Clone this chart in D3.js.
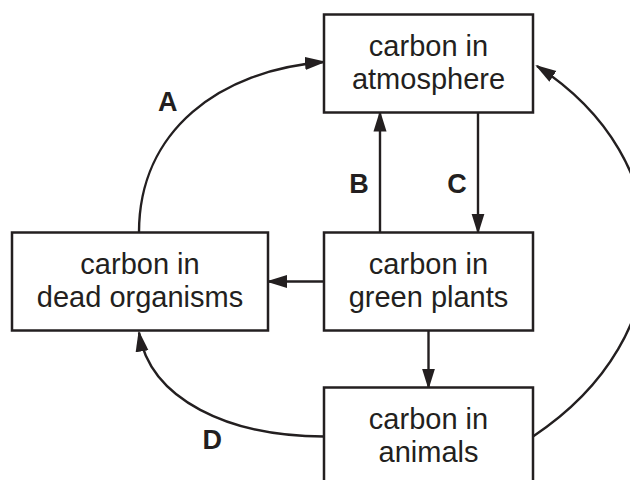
<!DOCTYPE html>
<html>
<head>
<meta charset="utf-8">
<script src="https://cdn.jsdelivr.net/npm/d3@7"></script>
<style>
  body { margin: 0; background: #fff; }
  svg { display: block; }
</style>
</head>
<body>
<div id="chart"></div>
<script>
// Carbon cycle - boxes and flow arrows
const nodeIds = ["atmosphere", "plants", "dead", "animals"];
const nodeLines = [
    ["carbon in", "atmosphere"],
    ["carbon in", "green plants"],
    ["carbon in", "dead organisms"],
    ["carbon in", "animals"]
];
const nodeCol = [1, 1, 0, 1];
const nodeRow = [0, 1, 1, 2];

const linkSource = ["plants", "atmosphere", "plants", "plants", "dead", "animals", "animals"];
const linkTarget = ["atmosphere", "plants", "dead", "animals", "atmosphere", "dead", "atmosphere"];
const linkLabel = ["B", "C", "", "", "A", "D", ""];

const width = 630, height = 480;
const ink = "#231f20";
const font = "'Liberation Sans', Arial, Helvetica, sans-serif";

const svg = d3.select("#chart")
    .append("svg")
    .attr("width", width)
    .attr("height", height)
    .style("overflow", "hidden");

// Layout scales: column / row -> box centre and size
const colX = d3.scaleOrdinal().domain([0, 1]).range([140, 428.5]);
const colW = d3.scaleOrdinal().domain([0, 1]).range([256, 209]);
const rowY = d3.scaleOrdinal().domain([0, 1, 2]).range([63.5, 281.5, 436.5]);
const boxH = 98;

const boxes = nodeIds.map((id, i) => {
    const cx = colX(nodeCol[i]), cy = rowY(nodeRow[i]), w = colW(nodeCol[i]);
    return { id, lines: nodeLines[i], col: nodeCol[i], row: nodeRow[i], cx, cy, w,
        x0: cx - w / 2, x1: cx + w / 2, y0: cy - boxH / 2, y1: cy + boxH / 2 };
});
const byId = new Map(boxes.map(b => [b.id, b]));

const links = linkSource.map((s, i) => ({
    source: byId.get(s), target: byId.get(linkTarget[i]), label: linkLabel[i]
}));

// Arrowhead
svg.append("defs").append("marker")
    .attr("id", "arrow")
    .attr("markerUnits", "userSpaceOnUse")
    .attr("viewBox", "0 -7 22 14")
    .attr("markerWidth", 22)
    .attr("markerHeight", 14)
    .attr("refX", 19)
    .attr("refY", 0)
    .attr("orient", "auto")
    .append("path")
    .attr("d", "M0,-6.5L21,0L0,6.5Z")
    .attr("fill", ink);

function bez(p0, p1, p2, p3, t) {
    const u = 1 - t;
    return [
        u*u*u*p0[0] + 3*u*u*t*p1[0] + 3*u*t*t*p2[0] + t*t*t*p3[0],
        u*u*u*p0[1] + 3*u*u*t*p1[1] + 3*u*t*t*p2[1] + t*t*t*p3[1]
    ];
}

function linkGeom(l) {
    const s = l.source, t = l.target;
    const hasReverse = links.some(o => o.source === t && o.target === s);
    const p = d3.path();
    let labelPos = null;
    if (s.col === t.col && Math.abs(s.row - t.row) === 1) {
        // straight vertical, split left/right when there is a return arrow
        const up = t.row < s.row;
        const x = s.cx + (hasReverse ? (up ? -48.5 : 49.5) : 0);
        const ya = up ? s.y0 : s.y1, yb = up ? t.y1 : t.y0;
        p.moveTo(x, ya); p.lineTo(x, yb);
        labelPos = [x - 21, (ya + yb) / 2 + 11];
    } else if (s.row === t.row) {
        const left = t.col < s.col;
        p.moveTo(left ? s.x0 : s.x1, s.cy);
        p.lineTo(left ? t.x1 : t.x0, t.cy);
    } else {
        let p0, p1, p2, p3, off = [0, 0];
        if (s.col === t.col) {
            // long loop round the right side
            p0 = [s.x1, s.cy];
            p3 = [t.x1 + 4, t.cy + 2.5];
            p1 = [p0[0] + 152, p0[1] - 101];
            p2 = [p3[0] + 145, p3[1] + 94];
        } else if (t.col > s.col) {
            // up from box top, into target's left side
            p0 = [s.cx - 1, s.y0];
            p3 = [t.x0, t.cy - 1.5];
            p1 = [p0[0], p0[1] - 0.6 * (p0[1] - p3[1])];
            p2 = [p0[0] + 0.44 * (p3[0] - p0[0]), p3[1] + 8];
            off = [-25, -10];
        } else {
            // from box side round to target's bottom
            p0 = [s.x0, s.cy];
            p3 = [t.cx - 1, t.y1 + 2];
            p1 = [p0[0] - 0.51 * (p0[0] - p3[0]), p0[1]];
            p2 = [p3[0] + 11, p3[1] + 0.65 * (p0[1] - p3[1])];
            off = [12, 30];
        }
        p.moveTo(p0[0], p0[1]);
        p.bezierCurveTo(p1[0], p1[1], p2[0], p2[1], p3[0], p3[1]);
        const m = bez(p0, p1, p2, p3, 0.5);
        labelPos = [m[0] + off[0], m[1] + off[1]];
    }
    return { d: p.toString(), labelPos };
}

links.forEach(l => Object.assign(l, linkGeom(l)));

svg.append("g")
    .selectAll("path")
    .data(links)
    .join("path")
    .attr("d", d => d.d)
    .attr("fill", "none")
    .attr("stroke", ink)
    .attr("stroke-width", 2.4)
    .attr("marker-end", "url(#arrow)");

svg.append("g")
    .selectAll("text")
    .data(links.filter(l => l.label))
    .join("text")
    .attr("x", d => d.labelPos[0])
    .attr("y", d => d.labelPos[1])
    .attr("text-anchor", "middle")
    .attr("dominant-baseline", "central")
    .attr("font-family", font)
    .attr("font-weight", "bold")
    .attr("font-size", 27)
    .attr("fill", ink)
    .text(d => d.label);

// Boxes
const node = svg.append("g")
    .selectAll("g")
    .data(boxes)
    .join("g");

node.append("rect")
    .attr("x", d => d.x0)
    .attr("y", d => d.y0)
    .attr("width", d => d.w)
    .attr("height", boxH)
    .attr("fill", "#fff")
    .attr("stroke", ink)
    .attr("stroke-width", 2.5);

node.append("text")
    .attr("text-anchor", "middle")
    .attr("font-family", font)
    .attr("font-size", 29)
    .attr("fill", ink)
    .selectAll("tspan")
    .data(d => d.lines.map((line, i) => ({ line, i, d })))
    .join("tspan")
    .attr("x", t => t.d.cx)
    .attr("y", t => t.d.cy + (t.i === 0 ? -8 : 25.5))
    .text(t => t.line);
</script>
</body>
</html>
